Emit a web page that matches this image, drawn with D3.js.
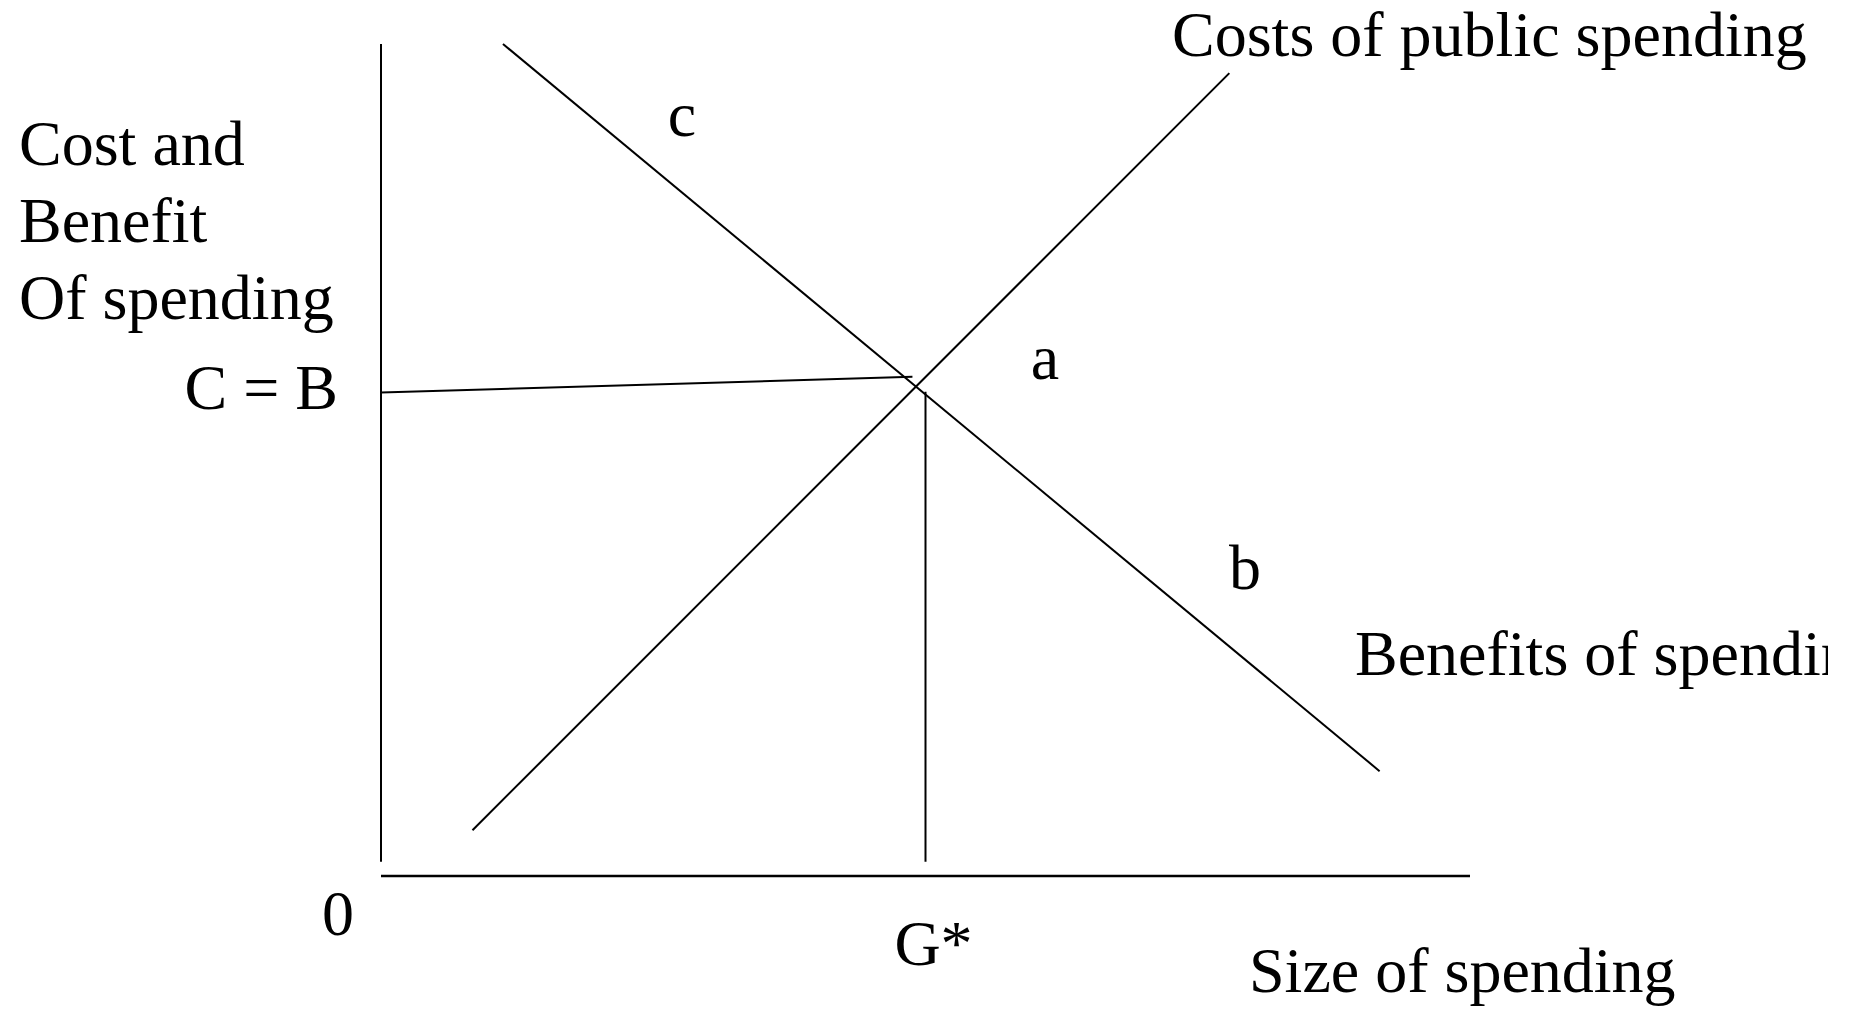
<!DOCTYPE html>
<html>
<head>
<meta charset="utf-8">
<script src="https://cdn.jsdelivr.net/npm/d3@7"></script>
<style>
  html, body { margin: 0; padding: 0; background: #fff; }
  svg { display: block; }
  text { font-family: "Liberation Serif", "Times New Roman", serif; fill: #000; }
</style>
</head>
<body>
<svg id="chart"></svg>
<script>
const width = 1856, height = 1009;

// curves, in chart units (x: size of spending, y: cost / benefit)
const benefitsCurve = [{x: 11.2, y: 100}, {x: 91.7, y: 12.6}];
const costsCurve = [{x: 8.4, y: 5.5}, {x: 77.9, y: 96.5}];
// the guide lines from the crossing point
const equalLine = [{x: 0, y: 58.1}, {x: 48.8, y: 60.0}];
const gStarLine = [{x: 50.0, y: 1.7}, {x: 50.0, y: 58.2}];
const yAxisLine = [{x: 0, y: 1.7}, {x: 0, y: 100}];
const xAxisLine = [{x: 0, y: 0}, {x: 100, y: 0}];

const yTitle = ["Cost and", "Benefit", "Of spending"];

let svg = d3.select("#chart")
    .attr("width", width)
    .attr("height", height);

let xScale = d3.scaleLinear()
    .domain([0, 100])
    .range([381, 1470]);

let yScale = d3.scaleLinear()
    .domain([0, 100])
    .range([876, 44]);

let line = d3.line()
    .x(function(d) { return xScale(d.x); })
    .y(function(d) { return yScale(d.y); });

// the original slide cuts the right-hand label off
svg.append("clipPath")
    .attr("id", "pageClip")
    .append("rect")
    .attr("x", 0).attr("y", 0)
    .attr("width", 1828).attr("height", height);

let g = svg.append("g").attr("clip-path", "url(#pageClip)");

// axes
g.append("path").datum(yAxisLine).attr("d", line)
    .attr("stroke", "#000").attr("stroke-width", 2).attr("fill", "none");
g.append("path").datum(xAxisLine).attr("d", line)
    .attr("stroke", "#000").attr("stroke-width", 2.5).attr("fill", "none");

// curves and guides
for (let d of [benefitsCurve, costsCurve, equalLine, gStarLine]) {
    g.append("path").datum(d).attr("d", line)
        .attr("stroke", "#000").attr("stroke-width", 2).attr("fill", "none");
}

function label(txt, x, y, anchor) {
    return g.append("text")
        .attr("x", x)
        .attr("y", y)
        .attr("text-anchor", anchor || "start")
        .style("font-size", "64px")
        .text(txt);
}

// y axis title
yTitle.forEach(function(t, i) {
    label(t, 19, 165 + i * 77);
});

label("C = B", 338, yScale(equalLine[0].y) + 16, "end");
label("0", 338, 935, "middle");
label("G*", xScale(gStarLine[0].x) + 8, 965, "middle");
label("Size of spending", 1249, 992);

label("Costs of public spending", 1172, 56);
label("Benefits of spending", 1355, 675);

label("c", 682, 136, "middle");
label("a", 1045, 379, "middle");
label("b", 1245, 589, "middle");
</script>
</body>
</html>
